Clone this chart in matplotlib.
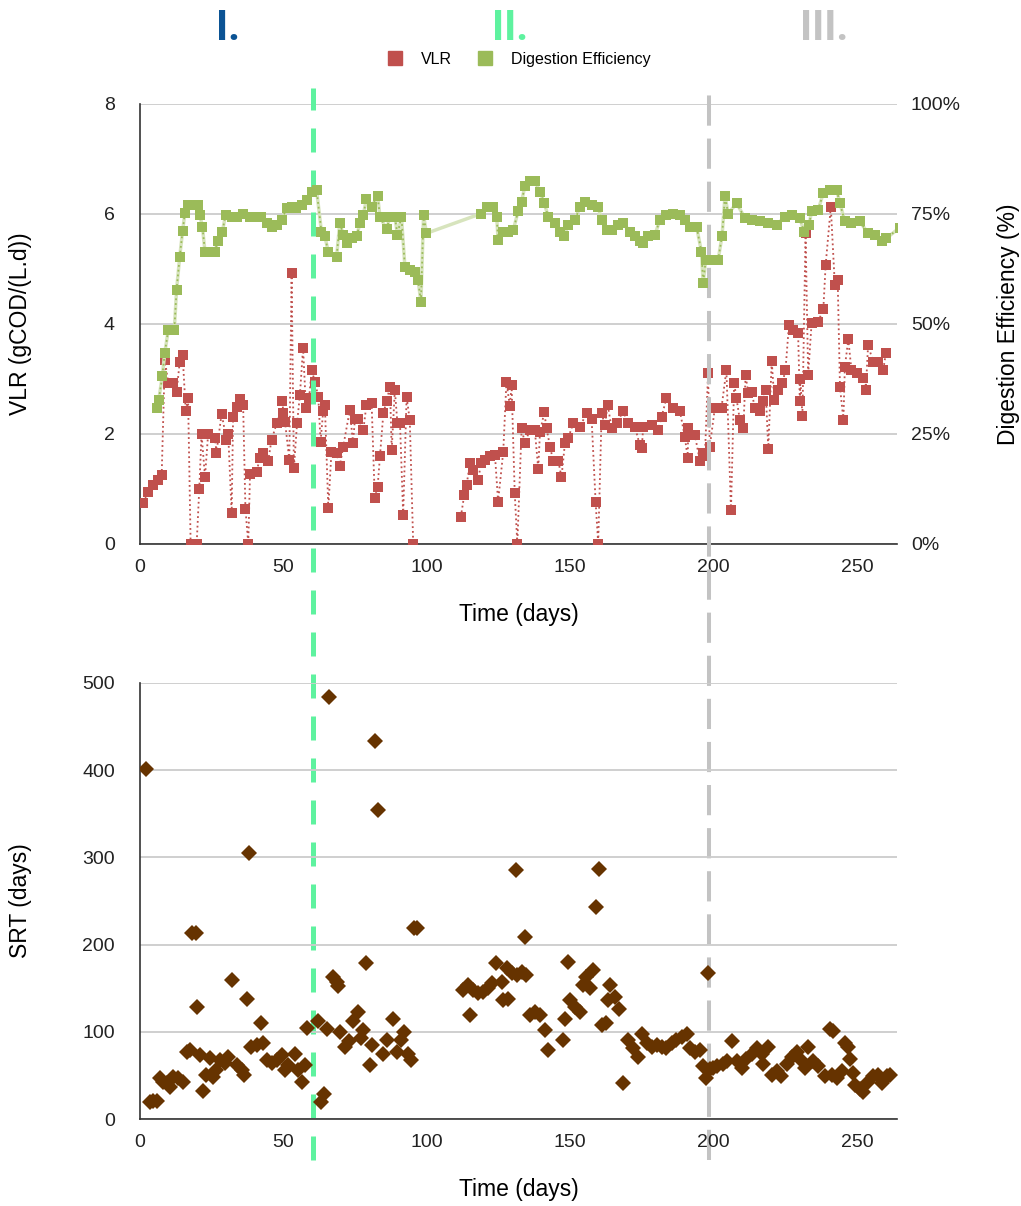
import numpy as np
import matplotlib.pyplot as plt
import matplotlib.transforms as mtransforms
from matplotlib.lines import Line2D

plt.rcParams['font.family'] = ['Liberation Sans', 'DejaVu Sans']

# ---- VLR (gCOD/(L.d)) ----
vlr_day = [1.2, 2.9, 4.6, 6.4, 7.6, 8.7, 9.9, 11.6, 12.8, 13.9, 14.9, 16.0, 16.8, 17.7, 19.8,
           20.7, 21.5, 22.7, 23.8, 26.2, 26.7, 28.5, 30.2, 30.8, 32.0, 32.5, 33.7, 34.9, 36.0,
           36.8, 37.8, 38.4, 40.7, 41.8, 43.0, 44.7, 45.9, 47.7, 49.7, 50.0, 50.6, 52.1, 52.9,
           53.7, 54.8, 55.8, 56.9, 57.9, 59.0, 59.9, 61.0, 62.2, 63.0, 63.9, 64.5, 65.7, 66.8,
           68.6, 69.7, 70.9, 73.2, 74.3, 75.0, 76.1, 77.9, 79.0, 80.8, 81.9, 82.9, 83.7, 84.9,
           86.0, 87.2, 87.8, 88.9, 89.8, 90.7, 91.8, 93.0, 94.1, 95.3,
           111.9, 113.1, 113.9, 115.1, 116.2, 118.0, 118.9, 120.3, 122.0, 123.8, 124.9, 126.7,
           127.8, 129.0, 129.6, 130.7, 131.6, 133.1, 134.2, 136.0, 137.7, 138.9, 139.5, 141.0,
           141.8, 143.0, 144.1, 145.9, 147.0, 148.2, 149.3, 151.1, 153.4, 155.8, 157.5, 158.9,
           159.8, 161.0, 162.1, 163.1, 164.5, 166.2, 168.5, 170.3, 172.6, 174.3, 175.0, 175.5,
           178.4, 180.7, 181.9, 183.6, 186.0, 188.3, 190.0, 191.0, 191.2, 193.5, 195.3, 196.4,
           197.0, 198.1, 198.7, 200.5, 202.8, 204.5, 206.1, 207.2, 208.0, 209.2, 210.4, 211.2,
           212.1, 213.3, 214.4, 216.2, 217.3, 218.2, 219.1, 220.3, 221.2, 222.6, 224.0, 225.1,
           226.3, 227.8, 229.5, 230.1, 230.3, 231.0, 232.1, 233.0, 234.2, 236.5, 238.3, 239.1,
           240.9, 242.3, 243.3, 244.1, 245.3, 245.8, 247.0, 248.1, 249.9, 252.2, 253.1, 253.9,
           255.7, 257.4, 259.2, 260.1]
vlr = [0.74, 0.95, 1.07, 1.16, 1.25, 3.35, 2.92, 2.92, 2.77, 3.31, 3.44, 2.41, 2.66, 0.0, 0.0,
       0.99, 2.0, 1.22, 2.0, 1.93, 1.66, 2.37, 1.89, 2.0, 0.56, 2.31, 2.49, 2.64, 2.52,
       0.64, 0.0, 1.27, 1.31, 1.56, 1.65, 1.5, 1.89, 2.19, 2.59, 2.38, 2.22, 1.53, 4.92,
       1.38, 2.19, 2.71, 3.57, 2.47, 2.65, 3.16, 2.95, 2.68, 1.86, 2.41, 2.53, 0.65, 1.68,
       1.65, 1.41, 1.77, 2.44, 1.83, 2.28, 2.28, 2.07, 2.53, 2.56, 0.83, 1.04, 1.59, 2.38,
       2.59, 2.86, 1.71, 2.80, 2.19, 2.19, 0.53, 2.68, 2.25, 0.0,
       0.49, 0.89, 1.07, 1.47, 1.35, 1.16, 1.47, 1.53, 1.59, 1.62, 0.77, 1.68,
       2.95, 2.5, 2.89, 0.92, 0.0, 2.1, 1.84, 2.07, 2.07, 1.36, 2.04, 2.39,
       2.1, 1.77, 1.51, 1.51, 1.21, 1.83, 1.92, 2.19, 2.13, 2.38, 2.28, 0.76,
       0.0, 2.38, 2.16, 2.53, 2.1, 2.19, 2.41, 2.19, 2.13, 1.8, 1.74, 2.13,
       2.16, 2.07, 2.31, 2.65, 2.47, 2.41, 1.95, 1.56, 2.1, 1.98, 1.5, 1.66,
       1.59, 3.1, 1.77, 2.48, 2.48, 3.16, 0.61, 2.92, 2.65, 2.25, 2.1, 3.07,
       2.74, 2.77, 2.47, 2.41, 2.59, 2.8, 1.72, 3.33, 2.62, 2.8, 2.92, 3.16,
       3.98, 3.89, 3.83, 2.59, 2.99, 2.33, 5.65, 3.07, 4.01, 4.04, 4.27, 5.07,
       6.13, 4.71, 4.8, 2.85, 2.25, 3.22, 3.72, 3.16, 3.1, 3.01, 2.8, 3.61,
       3.31, 3.31, 3.17, 3.47]

# ---- Digestion efficiency (%) ----
eff_day = [5.8, 6.6, 7.8, 8.7, 9.9, 12.0, 12.8, 13.9, 14.9, 15.7, 16.8, 18.6, 20.3, 20.9, 21.8,
           22.7, 24.4, 26.2, 27.1, 28.7, 29.9, 32.0, 33.7, 36.0, 38.4, 40.7, 42.4, 44.2, 45.9,
           47.7, 49.4, 51.2, 52.9, 54.6, 56.4, 58.1, 59.9, 61.6, 63.3, 64.5, 65.7, 68.6, 69.7,
           70.9, 72.1, 73.8, 75.6, 76.7, 77.9, 79.0, 80.8, 82.9, 83.7, 86.0, 87.2, 88.9, 89.8,
           91.2, 92.4, 94.1, 95.9, 97.0, 98.0, 98.9, 99.9,
           119.1, 120.9, 123.2, 124.4, 124.9, 126.7, 128.4, 130.2, 131.9, 133.1, 134.2, 136.0,
           137.7, 139.5, 141.0, 142.4, 144.7, 146.4, 147.9, 149.3, 151.7, 153.4, 155.2, 157.5,
           159.8, 161.0, 162.7, 164.5, 166.8, 168.5, 170.9, 172.6, 174.4, 175.5, 177.2, 179.6,
           181.3, 183.6, 186.0, 188.3, 190.0, 191.8, 194.1, 195.8, 196.4, 197.3, 199.3, 201.6,
           203.0, 204.0, 205.1, 208.1, 211.0, 213.3, 216.2, 219.1, 222.0, 224.9, 227.2, 230.1,
           231.6, 233.3, 234.2, 236.5, 238.3, 240.6, 242.9, 244.1, 245.8, 248.1, 251.0, 253.9,
           256.3, 258.6, 260.3, 265.0]
eff = [30.9, 32.8, 38.1, 43.5, 48.6, 48.6, 57.8, 65.3, 71.1, 75.3, 77.0, 77.0, 77.0, 74.8, 72.1,
       66.4, 66.4, 66.4, 68.8, 70.8, 74.8, 74.4, 74.4, 75.1, 74.4, 74.4, 74.4, 72.9, 72.1,
       72.4, 73.6, 76.3, 76.6, 76.3, 77.0, 78.1, 80.1, 80.5, 71.0, 69.9, 66.4, 65.3, 73.0,
       70.3, 68.4, 69.5, 69.9, 72.9, 74.8, 78.4, 76.6, 79.1, 74.4, 71.5, 74.4, 74.4, 70.3,
       74.4, 63.0, 62.3, 61.9, 60.0, 54.9, 74.8, 70.6,
       75.1, 76.6, 76.6, 74.4, 69.1, 71.0, 71.0, 71.4, 75.6, 77.8, 81.3, 82.4,
       82.4, 80.1, 77.4, 74.4, 72.9, 71.0, 69.9, 72.5, 73.6, 76.6, 77.8, 77.0,
       76.6, 73.6, 71.4, 71.4, 72.5, 72.9, 71.0, 69.9, 68.8, 68.4, 69.9, 70.3,
       73.6, 74.8, 75.1, 74.8, 73.6, 72.1, 72.1, 66.4, 59.3, 64.5, 64.5, 64.5,
       70.1, 79.1, 75.1, 77.4, 74.0, 73.6, 73.3, 72.9, 72.5, 74.4, 74.8, 74.0,
       71.0, 72.5, 75.6, 75.9, 79.8, 80.5, 80.5, 77.4, 73.3, 72.9, 73.3, 70.6,
       70.3, 68.8, 69.5, 71.9]

# ---- SRT (days) ----
srt_day = [2.1, 3.5, 4.6, 6.0, 7.0, 8.1, 9.3, 10.5, 11.6, 13.4, 15.1, 16.5, 17.4, 18.0, 19.4,
           20.0, 20.9, 22.1, 23.2, 24.4, 25.6, 26.7, 27.9, 29.6, 30.8, 32.0, 33.7, 35.5, 36.3,
           37.2, 38.1, 38.9, 40.7, 42.1, 43.0, 44.2, 45.9, 47.7, 49.4, 50.6, 51.7, 54.0, 55.2,
           56.4, 57.5, 58.1, 62.2, 63.0, 64.2, 65.1, 66.0, 67.4, 68.6, 69.2, 69.7, 71.5, 73.0,
           74.4, 76.1, 77.0, 77.9, 79.0, 80.2, 80.8, 81.9, 83.1, 84.8, 86.2, 88.1, 89.5, 91.2,
           92.1, 93.6, 94.4, 95.5, 96.5,
           112.7, 114.5, 115.1, 116.2, 118.0, 119.7, 121.4, 122.6, 124.1, 126.1, 126.7, 127.9,
           128.4, 129.6, 131.3, 131.4, 133.1, 134.2, 134.8, 136.0, 137.7, 139.5, 141.2, 142.4,
           147.4, 148.2, 149.3, 149.9, 151.7, 153.4, 154.6, 155.7, 156.9, 158.1, 159.2, 160.2,
           161.3, 162.5, 163.3, 163.9, 165.6, 167.1, 168.3, 170.3, 172.0, 173.8, 174.9, 176.7,
           178.4, 180.2, 181.9, 183.6, 185.4, 187.1, 188.9, 190.6, 191.8, 193.5, 195.3, 196.4,
           197.4, 198.2, 198.7, 199.9, 201.1, 203.4, 204.6, 206.3, 208.1, 209.8, 211.5, 213.3,
           215.0, 216.8, 217.3, 219.1, 220.3, 222.0, 223.7, 225.5, 227.2, 229.0, 230.7, 231.9,
           233.0, 234.8, 236.5, 238.8, 240.6, 241.2, 241.7, 242.9, 244.7, 245.8, 247.0, 247.6,
           248.7, 249.3, 251.0, 252.2, 253.9, 255.7, 257.4, 258.6, 260.4, 261.5]
srt = [401, 20, 21, 21, 47, 43, 41, 37, 48, 47, 43, 77, 79, 213, 213,
       129, 73, 32, 50, 70, 48, 56, 68, 64, 71, 159, 62, 56, 50,
       138, 305, 83, 85, 110, 87, 68, 64, 68, 73, 56, 62, 75, 56,
       43, 62, 104, 112, 20, 29, 103, 484, 163, 157, 152, 100, 83, 89,
       112, 123, 93, 102, 179, 62, 85, 433, 354, 75, 91, 115, 77, 91,
       100, 75, 68, 219, 219,
       148, 154, 119, 148, 144, 146, 150, 156, 179, 157, 136, 173,
       138, 167, 286, 165, 169, 209, 165, 119, 123, 119, 102, 79,
       91, 115, 180, 136, 129, 123, 154, 163, 150, 171, 243, 287,
       108, 110, 136, 154, 140, 126, 41, 91, 81, 71, 98, 87,
       83, 85, 83, 81, 87, 91, 94, 98, 81, 77, 79, 61,
       47, 167, 57, 58, 61, 63, 67, 89, 67, 59, 69, 75,
       81, 75, 63, 83, 51, 55, 49, 63, 71, 77, 67, 59,
       83, 67, 61, 49, 103, 51, 101, 47, 55, 87, 83, 69,
       53, 39, 35, 31, 43, 49, 51, 41, 49, 51]

# ---- Phase boundaries and labels ----
phase_lines = [60.3, 198.5]
phase_line_colors = ['#5ef29f', '#c3c3c3']
phase_labels = ['I.', 'II.', 'III.']
phase_label_x = [30.7, 129.0, 238.5]
phase_label_colors = ['#0b5394', '#5ef29f', '#c3c3c3']

red = '#c0504d'
green = '#9bbb59'
brown = '#663300'


def break_gaps(x, y, max_gap=8):
    # put NaN between points that are far apart so the dotted line stops
    xs, ys = [x[0]], [y[0]]
    for i in range(1, len(x)):
        if x[i] - x[i - 1] > max_gap:
            xs.append(np.nan)
            ys.append(np.nan)
        xs.append(x[i])
        ys.append(y[i])
    return xs, ys


def style_axis(ax):
    for s in ['top', 'right']:
        ax.spines[s].set_visible(False)
    ax.spines['left'].set_color('#333333')
    ax.spines['bottom'].set_color('#333333')
    ax.spines['left'].set_linewidth(1.2)
    ax.spines['bottom'].set_linewidth(1.2)
    ax.grid(axis='y', color='#cccccc', linewidth=1.3)
    ax.set_axisbelow(True)
    ax.tick_params(length=0, labelsize=14, colors='#222222')
    ax.tick_params(axis='y', pad=18)
    ax.tick_params(axis='x', pad=11)


fig = plt.figure(figsize=(10.21, 12.06), dpi=100)
ax1 = fig.add_axes([0.137, 0.549, 0.7416, 0.3648])
ax2 = fig.add_axes([0.137, 0.0721, 0.7416, 0.3616])
ax2.set_facecolor('none')

# ---- Top: VLR and digestion efficiency ----
xv, yv = break_gaps(vlr_day, vlr)
ax1.plot(xv, yv, color=red, linestyle=':', linewidth=1.3, zorder=3)
ax1.plot(vlr_day, vlr, 's', color=red, markersize=7, markeredgewidth=0, zorder=4)
ax1.set_xlim(0, 264)
ax1.set_ylim(0, 8)
ax1.set_yticks([0, 2, 4, 6, 8])
ax1.set_xticks([0, 50, 100, 150, 200, 250])
style_axis(ax1)
ax1.set_xlabel('Time (days)', fontsize=16.5, labelpad=19)
ax1.set_ylabel('VLR (gCOD/(L.d))', fontsize=16.5)
ax1.yaxis.set_label_coords(-0.1427, 0.5)

ax1r = ax1.twinx()
ax1r.plot(eff_day, eff, color='#d7e4bd', linewidth=2.5, zorder=2)
xe, ye = break_gaps(eff_day, eff)
ax1r.plot(xe, ye, color=green, linestyle=':', linewidth=1.3, zorder=3)
ax1r.plot(eff_day, eff, 's', color=green, markersize=7, markeredgewidth=0, zorder=4)
ax1r.set_ylim(0, 100)
ax1r.set_yticks([0, 25, 50, 75, 100])
ax1r.set_yticklabels(['0%', '25%', '50%', '75%', '100%'])
for s in ['top', 'right', 'left', 'bottom']:
    ax1r.spines[s].set_visible(False)
ax1r.tick_params(length=0, labelsize=14, colors='#222222', pad=10)
ax1r.set_ylabel('Digestion Efficiency (%)', fontsize=16.5, rotation=90)
ax1r.yaxis.set_label_position('right')
ax1r.yaxis.set_label_coords(1.132, 0.5)
ax1r.set_xlim(0, 264)

# ---- Bottom: SRT ----
ax2.plot(srt_day, srt, 'D', color=brown, markersize=8, markeredgewidth=0, zorder=3)
ax2.set_xlim(0, 264)
ax2.set_ylim(0, 500)
ax2.set_yticks([0, 100, 200, 300, 400, 500])
ax2.set_xticks([0, 50, 100, 150, 200, 250])
style_axis(ax2)
ax2.set_xlabel('Time (days)', fontsize=16.5, labelpad=19)
ax2.set_ylabel('SRT (days)', fontsize=16.5)
ax2.yaxis.set_label_coords(-0.1427, 0.5)

# ---- Phase boundary lines across both charts ----
ax1.axvline(phase_lines[0], ymin=-1.4, ymax=1.036, color=phase_line_colors[0],
            linewidth=3.6, dashes=(4.8, 3.6), clip_on=False, zorder=6)
ax1.axvline(phase_lines[1], ymin=-1.4, ymax=1.036, color=phase_line_colors[1],
            linewidth=2.9, dashes=(7.5, 3.2), clip_on=False, zorder=6)

# ---- Phase labels ----
trans = mtransforms.blended_transform_factory(ax1.transData, fig.transFigure)
for lab, x, c in zip(phase_labels, phase_label_x, phase_label_colors):
    fig.text(x, 0.9765, lab, transform=trans, color=c, fontsize=30, fontweight='bold',
             ha='center', va='center', family=['Roboto', 'DejaVu Sans'])

# ---- Legend ----
handles = [Line2D([], [], marker='s', linestyle='none', color=red, markersize=10),
           Line2D([], [], marker='s', linestyle='none', color=green, markersize=10)]
fig.legend(handles, ['VLR', 'Digestion Efficiency'], loc='center', ncol=2,
           bbox_to_anchor=(0.504, 0.951), frameon=False, fontsize=11.5,
           handletextpad=0.6, columnspacing=1.1)

fig.savefig('out.png', dpi=100)
